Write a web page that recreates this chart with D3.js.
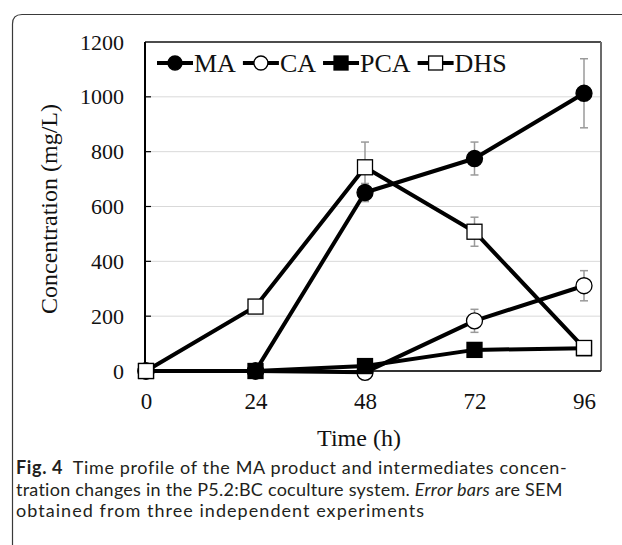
<!DOCTYPE html>
<html>
<head>
<meta charset="utf-8">
<script src="https://cdn.jsdelivr.net/npm/d3@7"></script>
<style>
html,body{margin:0;padding:0;background:#fff;}
svg{display:block;}
</style>
</head>
<body>
<svg id="chart" width="622" height="545"></svg>
<script>
const times = [0, 24, 48, 72, 96];
const xTicks = [0, 24, 48, 72, 96];
const yTicks = [0, 200, 400, 600, 800, 1000, 1200];
const seriesNames = ["MA", "CA", "PCA", "DHS"];
const maValues = [0, 0, 651, 775, 1013];
const maErrors = [0, 0, 33, 60, 126];
const caValues = [0, 0, -5, 183, 311];
const caErrors = [0, 0, 0, 42, 55];
const pcaValues = [0, 0, 18, 77, 83];
const pcaErrors = [0, 0, 0, 0, 0];
const dhsValues = [0, 235, 743, 508, 84];
const dhsErrors = [0, 0, 92, 53, 0];
const xTitle = "Time (h)";
const yTitle = "Concentration (mg/L)";

const series = [
  {name: "MA", values: maValues, errors: maErrors, shape: "circle", fill: "#000"},
  {name: "CA", values: caValues, errors: caErrors, shape: "circle", fill: "#fff"},
  {name: "PCA", values: pcaValues, errors: pcaErrors, shape: "square", fill: "#000"},
  {name: "DHS", values: dhsValues, errors: dhsErrors, shape: "square", fill: "#fff"}
];

const svg = d3.select("#chart");
const plot = {left: 145, right: 601, top: 42, bottom: 371};
const x = d3.scaleLinear().domain([0, 96]).range([146, 584]);
const y = d3.scaleLinear().domain([0, 1200]).range([plot.bottom, plot.top]);

// outer card frame
svg.append("path")
  .attr("d", "M12.5,545 L12.5,24 Q12.5,14.5 22,14.5 L622,14.5")
  .attr("fill", "none").attr("stroke", "#3a3a3a").attr("stroke-width", 1.2);

// gridlines
svg.append("g").selectAll("line").data(yTicks.filter(d => d > 0 && d < 1200)).join("line")
  .attr("x1", plot.left).attr("x2", plot.right)
  .attr("y1", d => y(d)).attr("y2", d => y(d))
  .attr("stroke", "#d9d9d9").attr("stroke-width", 1);

// inner ticks on y axis
svg.append("g").selectAll("line").data(yTicks.filter(d => d > 0 && d < 1200)).join("line")
  .attr("x1", plot.left).attr("x2", plot.left + 6)
  .attr("y1", d => y(d)).attr("y2", d => y(d))
  .attr("stroke", "#000").attr("stroke-width", 1.2);

// plot borders
svg.append("line").attr("x1", plot.left).attr("x2", plot.right).attr("y1", plot.top).attr("y2", plot.top)
  .attr("stroke", "#111").attr("stroke-width", 1.6);
svg.append("line").attr("x1", plot.right).attr("x2", plot.right).attr("y1", plot.top).attr("y2", plot.bottom)
  .attr("stroke", "#6b6b6b").attr("stroke-width", 2);
svg.append("line").attr("x1", plot.left).attr("x2", plot.right).attr("y1", plot.bottom).attr("y2", plot.bottom)
  .attr("stroke", "#333").attr("stroke-width", 2);
svg.append("line").attr("x1", plot.left).attr("x2", plot.left).attr("y1", plot.top).attr("y2", plot.bottom)
  .attr("stroke", "#000").attr("stroke-width", 2);

const serif = "'Liberation Serif', 'Times New Roman', serif";
const yAxis = svg.append("g").attr("transform", `translate(${plot.left},0)`)
  .call(d3.axisLeft(y).tickValues(yTicks).tickSize(0).tickPadding(21).tickFormat(d3.format("d")));
yAxis.select(".domain").remove();
yAxis.selectAll("text").attr("font-family", serif).attr("font-size", 22).attr("fill", "#111");

const xAxis = svg.append("g").attr("transform", `translate(0,${plot.bottom})`)
  .call(d3.axisBottom(x).tickValues(xTicks).tickSize(0).tickPadding(22).tickFormat(d3.format("d")));
xAxis.select(".domain").remove();
xAxis.selectAll("text").attr("font-family", serif).attr("font-size", 23).attr("fill", "#111");

// titles
svg.append("text").attr("x", 359).attr("y", 446).attr("text-anchor", "middle")
  .attr("font-family", serif).attr("font-size", 24).attr("fill", "#111").text(xTitle);
svg.append("text").attr("transform", "translate(57,209) rotate(-90)").attr("text-anchor", "middle")
  .attr("font-family", serif).attr("font-size", 24).attr("fill", "#111").text(yTitle);

// error bars
const eg = svg.append("g");
series.forEach(s => {
  times.forEach((t, i) => {
    const e = s.errors[i];
    if (!e) return;
    const cx = x(t), y1 = y(s.values[i] - e), y2 = y(s.values[i] + e);
    eg.append("line").attr("x1", cx).attr("x2", cx).attr("y1", y1).attr("y2", y2)
      .attr("stroke", "#9a9a9a").attr("stroke-width", 1.5);
    [y1, y2].forEach(yy => eg.append("line").attr("x1", cx - 4).attr("x2", cx + 4).attr("y1", yy).attr("y2", yy)
      .attr("stroke", "#9a9a9a").attr("stroke-width", 1.5));
  });
});

function drawMarker(g, s, cx, cy, size) {
  if (s.shape === "circle") {
    g.append("circle").attr("cx", cx).attr("cy", cy).attr("r", size / 2)
      .attr("fill", s.fill).attr("stroke", "#000").attr("stroke-width", 1.3);
  } else {
    g.append("rect").attr("x", cx - size / 2).attr("y", cy - size / 2).attr("width", size).attr("height", size)
      .attr("fill", s.fill).attr("stroke", "#000").attr("stroke-width", 1.3);
  }
}

const line = d3.line().x((d, i) => x(times[i])).y(d => y(d));
series.forEach(s => {
  const g = svg.append("g");
  g.append("path").attr("d", line(s.values)).attr("fill", "none")
    .attr("stroke", "#000").attr("stroke-width", 4).attr("stroke-linejoin", "round");
  s.values.forEach((v, i) => drawMarker(g, s, x(times[i]), y(v), s.shape === "circle" ? 16 : 15));
});

// legend
const lg = svg.append("g");
let lx = 157;
const ly = 63;
series.forEach(s => {
  lg.append("line").attr("x1", lx).attr("x2", lx + 36).attr("y1", ly).attr("y2", ly)
    .attr("stroke", "#000").attr("stroke-width", 4);
  drawMarker(lg, s, lx + 18, ly, 14);
  const t = lg.append("text").attr("x", lx + 37).attr("y", ly + 9)
    .attr("font-family", serif).attr("font-size", 26).attr("fill", "#111").text(s.name);
  lx += 37 + t.node().getComputedTextLength() + 7;
});

// caption
const sans = "Lato, 'Open Sans', sans-serif";
const cap = svg.append("g").attr("font-family", sans).attr("font-size", 18).attr("fill", "#231f20");
const l1 = cap.append("text").attr("x", 16).attr("y", 474);
l1.append("tspan").attr("font-weight", "bold").text("Fig. 4");
l1.append("tspan").text("\u2002Time profile of the MA product and intermediates concen-");
const l2 = cap.append("text").attr("x", 16).attr("y", 496);
l2.append("tspan").text("tration changes in the P5.2:BC coculture system. ");
l2.append("tspan").attr("font-style", "italic").text("Error bars");
l2.append("tspan").text(" are SEM");
const l3 = cap.append("text").attr("x", 16).attr("y", 517).text("obtained from three independent experiments");
// fit each caption line to its width in the reference
[[l1, 551], [l2, 547], [l3, 409]].forEach(([el, target]) => {
  const w = el.node().getComputedTextLength();
  const n = el.text().length;
  el.attr("letter-spacing", ((target - w) / n).toFixed(3));
});
</script>
</body>
</html>
